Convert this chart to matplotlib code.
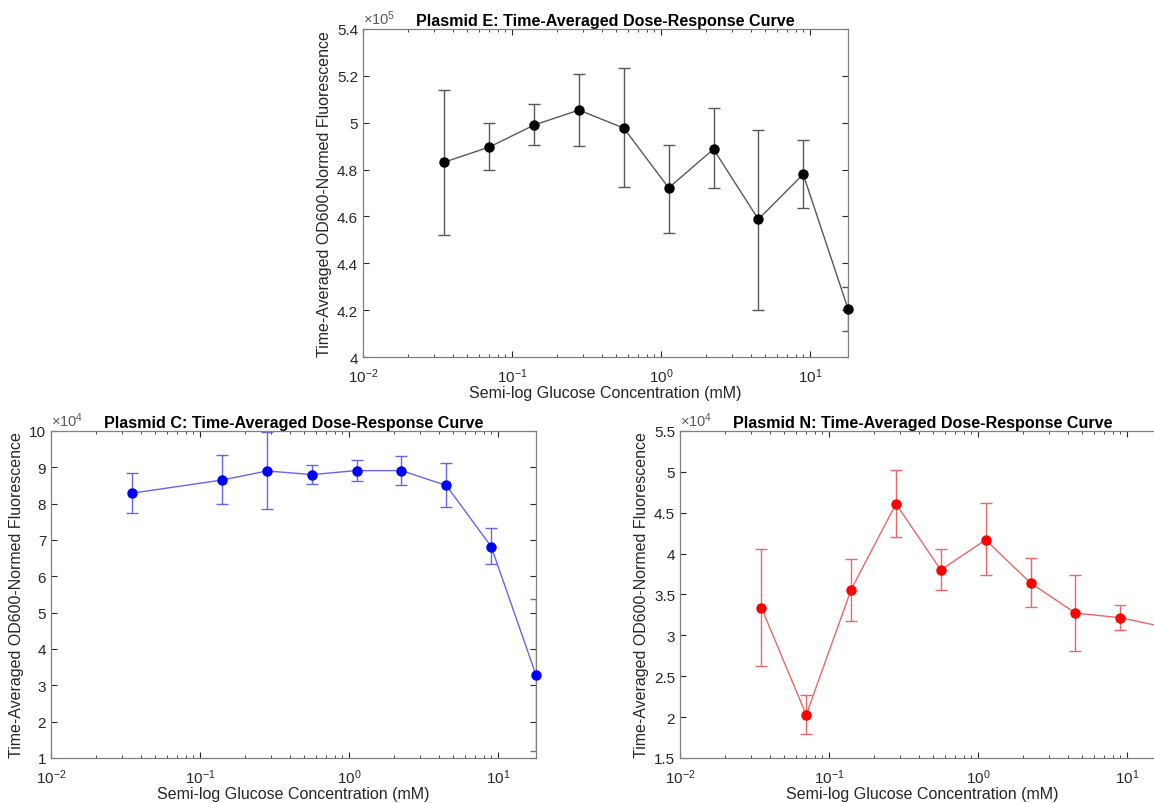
"""Time-averaged dose-response curves for three plasmids (semi-log)."""
import numpy as np
import matplotlib
matplotlib.use("Agg")
import matplotlib.pyplot as plt
from matplotlib.ticker import FuncFormatter, LogLocator, MultipleLocator

plt.rcParams['font.family'] = ['Liberation Sans', 'DejaVu Sans']
plt.rcParams['mathtext.fontset'] = 'custom'
plt.rcParams['mathtext.rm'] = 'Liberation Sans'
plt.rcParams['mathtext.it'] = 'Liberation Sans'
plt.rcParams['axes.unicode_minus'] = False

# glucose concentrations (mM)
conc = [0.0352, 0.0703, 0.1406, 0.28125, 0.5625, 1.125, 2.25, 4.5, 9.0, 18.0]

# Plasmid E (x 1e5)
e_mean = [4.832, 4.896, 4.990, 5.054, 4.977, 4.722, 4.887, 4.588, 4.780, 4.205]
e_low = [4.520, 4.797, 4.904, 4.900, 4.725, 4.530, 4.720, 4.199, 4.635, 4.109]
e_high = [5.139, 5.000, 5.080, 5.210, 5.233, 4.906, 5.062, 4.968, 4.928, 4.300]

# Plasmid C (x 1e4), no 0.07 mM point
c_conc = [0.0352, 0.1406, 0.28125, 0.5625, 1.125, 2.25, 4.5, 9.0, 18.0]
c_mean = [8.29, 8.65, 8.90, 8.80, 8.91, 8.91, 8.50, 6.82, 3.28]
c_low = [7.75, 7.98, 7.85, 8.55, 8.63, 8.52, 7.90, 6.35, 1.19]
c_high = [8.83, 9.33, 9.96, 9.07, 9.20, 9.32, 9.11, 7.32, 5.37]

# Plasmid N (x 1e4)
n_mean = [3.335, 2.027, 3.559, 4.609, 3.800, 4.168, 3.641, 3.273, 3.216, 3.100]
n_low = [2.628, 1.790, 3.179, 4.201, 3.551, 3.735, 3.343, 2.807, 3.069, 2.900]
n_high = [4.054, 2.272, 3.939, 5.026, 4.054, 4.613, 3.943, 3.743, 3.367, 3.300]

AX_GRAY = (0.15, 0.15, 0.15)
W = 0.4203


def draw(ax, x, mean, low, high, scale, exp, ylim, ystep, title, mcolor, lcolor):
    mean = np.array(mean) * scale
    low = np.array(low) * scale
    high = np.array(high) * scale
    yerr = [mean - low, high - mean]
    ax.errorbar(x, mean, yerr=yerr, fmt='-', color=lcolor, lw=1.0,
                ecolor=lcolor, elinewidth=1.0, capsize=4, capthick=1.0, zorder=2)
    ax.plot(x, mean, 'o', color=mcolor, ms=6.5, zorder=3, clip_on=False)
    ax.set_xscale('log')
    ax.set_xlim(0.01, 18)
    ax.set_ylim(ylim[0] * scale, ylim[1] * scale)
    ax.yaxis.set_major_locator(MultipleLocator(ystep * scale))
    ax.yaxis.set_major_formatter(FuncFormatter(lambda v, p: f'{v / scale:g}'))
    ax.xaxis.set_major_locator(LogLocator(base=10, numticks=10))
    ax.xaxis.set_minor_locator(LogLocator(base=10, subs=np.arange(2, 10), numticks=20))
    ax.tick_params(which='both', direction='in', top=True, right=True,
                   colors=AX_GRAY, labelsize=11)
    ax.tick_params(which='major', length=4)
    ax.tick_params(which='minor', length=2)
    ax.tick_params(axis='x', which='major', pad=7)
    for s in ax.spines.values():
        s.set_color((0.5, 0.5, 0.5))
        s.set_linewidth(0.9)
    ax.set_xlabel('Semi-log Glucose Concentration (mM)', fontsize=11.5,
                  color=AX_GRAY, labelpad=0)
    ax.set_ylabel('Time-Averaged OD600-Normed Fluorescence', fontsize=11.5,
                  color=AX_GRAY, labelpad=4)
    ax.set_title(title, fontsize=11.6, fontweight='bold', pad=3)
    ax.text(0.0, 1.005, r'$\times10^{%d}$' % exp, transform=ax.transAxes,
            fontsize=10.5, color=(0.35, 0.35, 0.35), ha='left', va='bottom')


fig = plt.figure(figsize=(11.54, 8.04), dpi=100)
ax_e = fig.add_axes([0.3146, 0.5547, W, 0.408])
ax_c = fig.add_axes([0.0442, 0.056, W, 0.4067])
ax_n = fig.add_axes([0.5893, 0.056, W, 0.4067])

draw(ax_e, conc, e_mean, e_low, e_high, 1e5, 5, (4.0, 5.4), 0.2,
     'Plasmid E: Time-Averaged Dose-Response Curve', 'black', (0.35, 0.35, 0.35))
draw(ax_c, c_conc, c_mean, c_low, c_high, 1e4, 4, (1, 10), 1,
     'Plasmid C: Time-Averaged Dose-Response Curve', (0, 0, 1), (0.4, 0.4, 0.92))
draw(ax_n, conc, n_mean, n_low, n_high, 1e4, 4, (1.5, 5.5), 0.5,
     'Plasmid N: Time-Averaged Dose-Response Curve', (1, 0, 0), (0.92, 0.4, 0.4))

fig.savefig('out.png', dpi=100)
